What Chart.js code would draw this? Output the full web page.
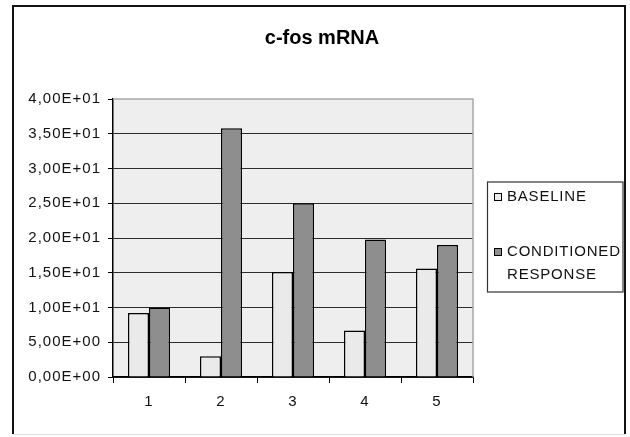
<!DOCTYPE html>
<html>
<head>
<meta charset="utf-8">
<script src="https://cdn.jsdelivr.net/npm/chart.js@4"></script>
<style>
  html, body { margin: 0; padding: 0; background: #fff; }
  canvas { display: block; }
</style>
</head>
<body>
<canvas id="c" width="630" height="437"></canvas>
<script>
// c-fos mRNA expression per subject, baseline vs. conditioned response
const chartTitle = 'c-fos mRNA';
const categories = ['1', '2', '3', '4', '5'];
const seriesNames = ['BASELINE', 'CONDITIONED RESPONSE'];
const baseline = [9.2, 3.0, 15.1, 6.7, 15.6];
const conditioned = [10.0, 35.8, 25.0, 19.8, 19.0];
const yMin = 0, yMax = 40, yStep = 5;

const FONT = '"Liberation Sans", Arial, sans-serif';

// Spreadsheet-style scientific notation with a decimal comma: 3,50E+01
function sci(v) {
  const [mant, ex] = v.toExponential(2).split('e');
  const n = parseInt(ex, 10);
  return mant.replace('.', ',') + 'E' + (n < 0 ? '-' : '+') + String(Math.abs(n)).padStart(2, '0');
}

const framePlugin = {
  id: 'frame',
  beforeDraw(chart) {
    const { ctx, chartArea: a } = chart;
    ctx.letterSpacing = '1px';
    ctx.save();
    // plot background
    ctx.fillStyle = '#eeeeee';
    ctx.fillRect(a.left, a.top, a.right - a.left, a.bottom - a.top);
    // outer chart border
    ctx.strokeStyle = '#111';
    ctx.lineWidth = 2;
    ctx.beginPath();
    ctx.moveTo(13, 434);
    ctx.lineTo(13, 6);
    ctx.lineTo(625, 6);
    ctx.lineTo(625, 434);
    ctx.stroke();
    ctx.strokeStyle = '#dddddd';
    ctx.lineWidth = 1;
    ctx.beginPath();
    ctx.moveTo(13, 434.5);
    ctx.lineTo(625, 434.5);
    ctx.stroke();
    // title
    ctx.letterSpacing = '0px';
    ctx.fillStyle = '#000';
    ctx.font = 'bold 20px ' + FONT;
    ctx.textAlign = 'center';
    ctx.textBaseline = 'middle';
    ctx.fillText(chartTitle, 322, 38);
    ctx.restore();
  },
  beforeDatasetsDraw(chart) {
    const { ctx, chartArea: a } = chart;
    ctx.save();
    ctx.strokeStyle = '#a8a8a8';
    ctx.lineWidth = 1.5;
    ctx.beginPath();
    ctx.moveTo(a.left, a.top);
    ctx.lineTo(a.right, a.top);
    ctx.lineTo(a.right, a.bottom);
    ctx.stroke();
    ctx.restore();
  },
  afterDraw(chart) {
    // legend box at the right
    const ctx = chart.ctx;
    ctx.save();
    ctx.letterSpacing = '0.8px';
    ctx.fillStyle = '#fff';
    ctx.fillRect(487, 182, 136, 110);
    ctx.strokeStyle = '#333';
    ctx.lineWidth = 1.2;
    ctx.strokeRect(487.5, 182, 135.5, 110);
    ctx.font = '15px ' + FONT;
    ctx.textBaseline = 'middle';
    ctx.textAlign = 'left';
    const rows = [
      { y: 197, lines: ['BASELINE'] },
      { y: 252, lines: ['CONDITIONED', 'RESPONSE'] }
    ];
    chart.data.datasets.forEach((ds, i) => {
      const r = rows[i];
      ctx.fillStyle = ds.backgroundColor;
      ctx.fillRect(494, r.y - 4, 8, 8);
      ctx.strokeStyle = '#000';
      ctx.lineWidth = 1;
      ctx.strokeRect(494.5, r.y - 3.5, 7, 7);
      ctx.fillStyle = '#111';
      r.lines.forEach((t, k) => ctx.fillText(t, 507, r.y + k * 22.5));
    });
    ctx.restore();
  }
};

new Chart(document.getElementById('c'), {
  type: 'bar',
  data: {
    labels: categories,
    datasets: [
      {
        label: seriesNames[0],
        data: baseline,
        backgroundColor: '#eaeaea',
        borderColor: '#000',
        borderWidth: 1.5
      },
      {
        label: seriesNames[1],
        data: conditioned,
        backgroundColor: '#8e8e8e',
        borderColor: '#000',
        borderWidth: 1.5
      }
    ]
  },
  options: {
    responsive: false,
    animation: false,
    devicePixelRatio: 1,
    layout: { padding: { top: 99, left: 13, right: 157, bottom: 20 } },
    datasets: { bar: { categoryPercentage: 0.585, barPercentage: 1.0 } },
    plugins: {
      legend: { display: false },
      title: { display: false },
      tooltip: { enabled: false }
    },
    scales: {
      x: {
        afterFit(s) { s.height = 40; },
        grid: {
          offset: true,
          drawOnChartArea: false,
          drawTicks: true,
          tickLength: 6,
          tickColor: '#000',
          tickWidth: 1
        },
        border: { display: true, color: '#000', width: 1.5 },
        ticks: {
          color: '#111',
          padding: 10,
          font: { family: FONT, size: 15 }
        }
      },
      y: {
        min: yMin,
        max: yMax,
        afterFit(s) { s.width = 100; },
        ticks: {
          stepSize: yStep,
          color: '#111',
          padding: 7,
          font: { family: FONT, size: 15 },
          callback: (v) => sci(v)
        },
        grid: {
          color: (c) => (c.tick && c.tick.value === yMax ? 'rgba(0,0,0,0)' : '#2b2b2b'),
          lineWidth: 1,
          tickLength: 5,
          tickColor: '#000',
          tickWidth: 1
        },
        border: { display: true, color: '#000', width: 1.5 }
      }
    }
  },
  plugins: [framePlugin]
});
</script>
</body>
</html>
